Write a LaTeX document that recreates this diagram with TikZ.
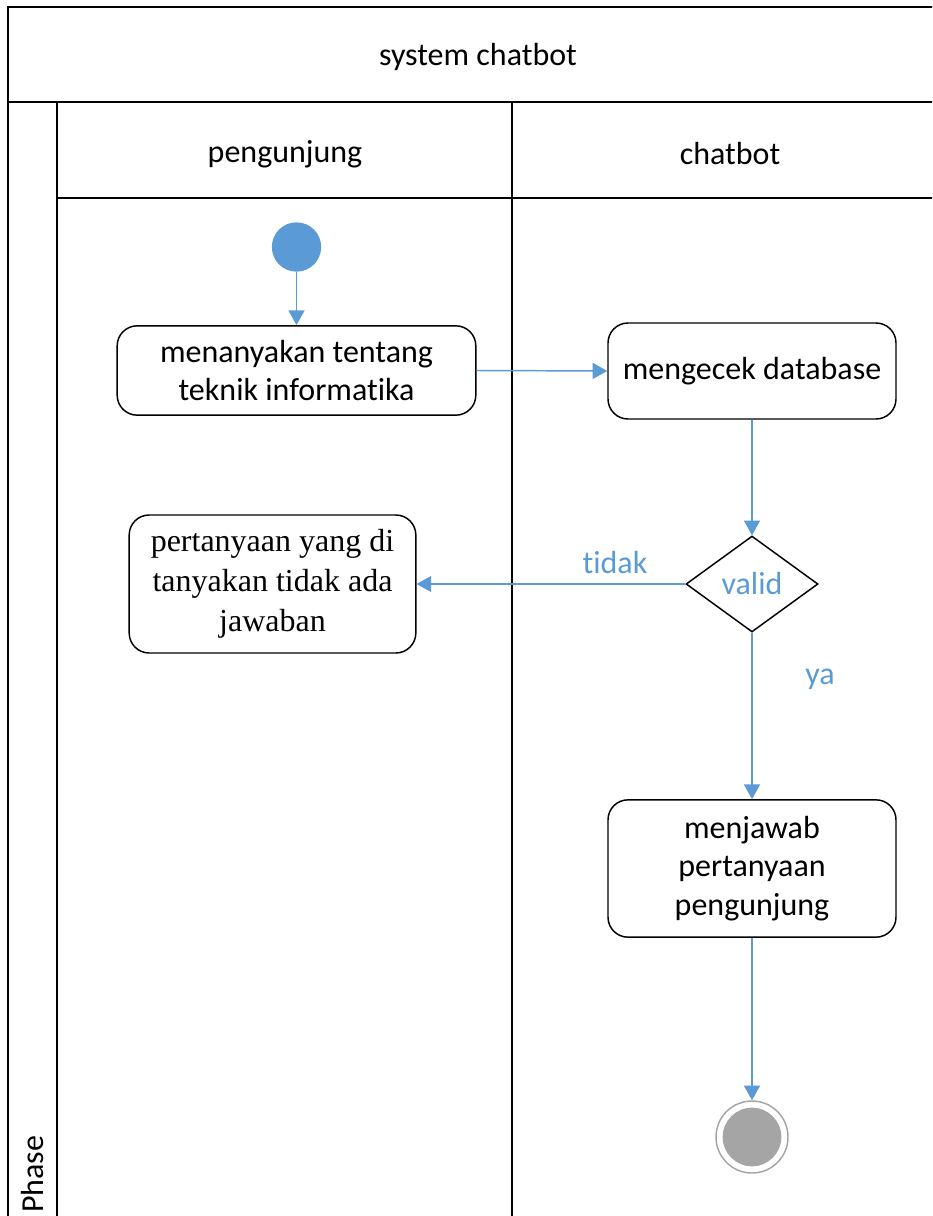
\documentclass[tikz,border=0pt]{standalone}
\usepackage{fontspec}
\setmainfont[Ligatures=NoCommon]{Carlito}
\newfontfamily\timesfont{Liberation Serif}
\usepackage{tikz}
\usetikzlibrary{arrows.meta, shapes.geometric, positioning}
\definecolor{flowblue}{HTML}{5B9BD5}
\definecolor{endgray}{HTML}{A5A5A5}
\tikzset{>={Triangle[width=12pt,length=11pt]}}

\begin{document}
\begin{tikzpicture}[x=0.75pt,y=-0.75pt,
    frame/.style={draw=black,line width=1.3pt},
    lane/.style={draw=black,line width=0.9pt},
    title/.style={font=\fontsize{24}{29}\selectfont},
    act/.style={rectangle,rounded corners=15pt,draw=black,line width=1.1pt,
      align=center,inner sep=0pt,font=\fontsize{24}{29}\selectfont},
    decide/.style={diamond,draw=black,line width=1.1pt,inner sep=0pt,
      minimum width=99pt,minimum height=72pt,text=flowblue,
      font=\fontsize{24}{29}\selectfont},
    flow/.style={->,draw=flowblue,line width=1.1pt},
    guard/.style={text=flowblue,font=\fontsize{24}{29}\selectfont}]
  \useasboundingbox (0,0) rectangle (932,1216);
  \clip (0,0) rectangle (932,1216);
  % swimlanes
  \draw[frame] (940,7) -- (8,7) -- (8,1230);
  \draw[frame] (8,102) -- (940,102);
  \draw[lane] (57,102) -- (57,1230);
  \draw[lane] (57,198) -- (940,198);
  \draw[lane] (512,102) -- (512,1230);
  \node (sys) at (478,57)[title] {system chatbot};
  \node (pgj) at (285,154)[title] {pengunjung};
  \node (bot) at (730,154)[title] {chatbot};
  \node (phase) at (33,1213)[title,rotate=90,anchor=west,inner sep=0pt] {Phase};

  \node (start) at (296.5,247)[circle,fill=flowblue,minimum size=37pt,inner sep=0pt] {};
  \node (tanya) at (296.5,370.5)[act,minimum width=269pt,minimum height=67pt]
    {menanyakan tentang\\teknik informatika};
  \node (cek) at (752,371)[act,minimum width=216pt,minimum height=72pt]
    {mengecek database};
  \node (valid) at (752,584)[decide] {valid};
  \node (kosong) at (272.5,584)[act,minimum width=215pt,minimum height=103.5pt,
    font=\timesfont\fontsize{24}{30}\selectfont]
    {pertanyaan yang di\\tanyakan tidak ada\\jawaban};
  \node (jawab) at (752,868.5)[act,minimum width=216pt,minimum height=103pt]
    {menjawab\\pertanyaan\\pengunjung};
  \node (end) at (752,1137)[circle,draw=endgray,line width=1.1pt,minimum size=54pt,
    inner sep=0pt,path picture={\fill[endgray] (path picture bounding box.center) circle (22pt);}] {};

  \draw[flow] (start) -- (tanya);
  \draw[flow] (tanya.east) -- (cek.west);
  \draw[flow] (cek) -- (valid);
  \draw[flow] (valid.west) -- (kosong.east);
  \draw[flow] (valid) -- (jawab);
  \draw[flow] (jawab) -- (end);
  \node (tidak) at (615,563)[guard] {tidak};
  \node (ya) at (820,679)[guard] {ya};
\end{tikzpicture}
\end{document}
